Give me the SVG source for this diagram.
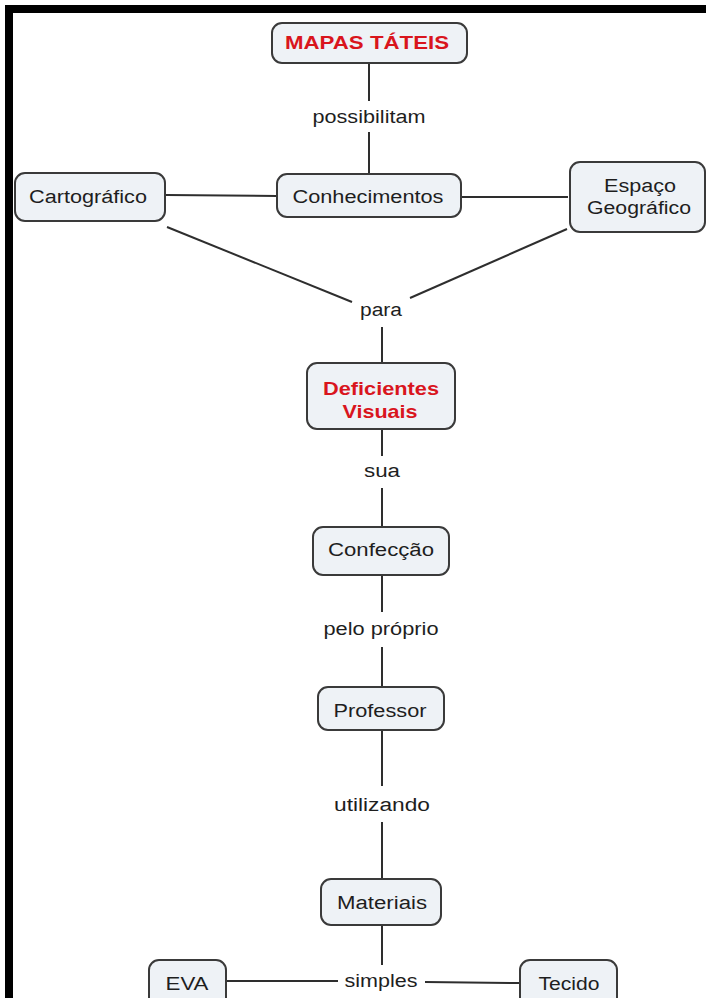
<svg xmlns="http://www.w3.org/2000/svg" width="706" height="998" viewBox="0 0 706 998">
<style>
.node rect{fill:#eef2f6;stroke:#3a3a3a;stroke-width:2}
text{font-family:"Liberation Sans",Arial,sans-serif;font-size:18px;fill:#1e1e1e;text-anchor:middle}
.red{fill:#d9151d;font-weight:bold;font-size:19px}
.lbl{fill:#1e1e1e}
#connectors line{stroke:#2e2e2e;stroke-width:2}
</style>
<rect x="0" y="0" width="706" height="998" fill="#ffffff"/>
<g id="frame">
<rect x="5" y="5" width="701" height="8" fill="#000"/>
<rect x="5" y="5" width="8" height="993" fill="#000"/>
</g>
<g id="connectors">
<line x1="369" y1="63" x2="369" y2="101"/>
<line x1="369" y1="132" x2="369" y2="174"/>
<line x1="166" y1="195" x2="277" y2="196"/>
<line x1="461" y1="197" x2="568" y2="197"/>
<line x1="167" y1="227" x2="352" y2="302"/>
<line x1="567" y1="229" x2="410" y2="298"/>
<line x1="382" y1="327" x2="382" y2="363"/>
<line x1="382" y1="429" x2="382" y2="456"/>
<line x1="382" y1="488" x2="382" y2="527"/>
<line x1="382" y1="575" x2="382" y2="612"/>
<line x1="382" y1="647" x2="382" y2="687"/>
<line x1="382" y1="730" x2="382" y2="786"/>
<line x1="382" y1="822" x2="382" y2="879"/>
<line x1="382" y1="925" x2="382" y2="965"/>
<line x1="226" y1="981" x2="338" y2="981"/>
<line x1="425" y1="982" x2="519" y2="983"/>
</g>
<g id="label-possibilitam"><text class="lbl" x="369" y="123" textLength="113" lengthAdjust="spacingAndGlyphs">possibilitam</text></g>
<g id="label-para"><text class="lbl" x="381" y="316" textLength="42" lengthAdjust="spacingAndGlyphs">para</text></g>
<g id="label-sua"><text class="lbl" x="382" y="477" textLength="36" lengthAdjust="spacingAndGlyphs">sua</text></g>
<g id="label-pelo"><text class="lbl" x="381" y="635" textLength="115" lengthAdjust="spacingAndGlyphs">pelo próprio</text></g>
<g id="label-utilizando"><text class="lbl" x="382" y="811" textLength="96" lengthAdjust="spacingAndGlyphs">utilizando</text></g>
<g id="label-simples"><text class="lbl" x="381" y="987" textLength="73" lengthAdjust="spacingAndGlyphs">simples</text></g>

<g id="mapas" class="node"><rect x="272" y="23" width="195" height="40" rx="10"/><text class="red" x="367" y="49" textLength="164" lengthAdjust="spacingAndGlyphs">MAPAS TÁTEIS</text></g>
<g id="conhecimentos" class="node"><rect x="277" y="174" width="184" height="43" rx="10"/><text x="368" y="203" textLength="151" lengthAdjust="spacingAndGlyphs">Conhecimentos</text></g>
<g id="cartografico" class="node"><rect x="15" y="173" width="150" height="48" rx="10"/><text x="88" y="203" textLength="118" lengthAdjust="spacingAndGlyphs">Cartográfico</text></g>
<g id="espaco" class="node"><rect x="570" y="162" width="135" height="70" rx="10"/><text x="640" y="192" textLength="72" lengthAdjust="spacingAndGlyphs">Espaço</text><text x="639" y="214" textLength="104" lengthAdjust="spacingAndGlyphs">Geográfico</text></g>
<g id="deficientes" class="node"><rect x="307" y="363" width="148" height="66" rx="10"/><text class="red" x="381" y="395" textLength="116" lengthAdjust="spacingAndGlyphs">Deficientes</text><text class="red" x="380" y="418" textLength="75" lengthAdjust="spacingAndGlyphs">Visuais</text></g>
<g id="confeccao" class="node"><rect x="313" y="527" width="136" height="48" rx="10"/><text x="381" y="556" textLength="106" lengthAdjust="spacingAndGlyphs">Confecção</text></g>
<g id="professor" class="node"><rect x="318" y="687" width="126" height="43" rx="10"/><text x="380" y="717" textLength="93" lengthAdjust="spacingAndGlyphs">Professor</text></g>
<g id="materiais" class="node"><rect x="321" y="879" width="120" height="46" rx="10"/><text x="382" y="909" textLength="90" lengthAdjust="spacingAndGlyphs">Materiais</text></g>
<g id="eva" class="node"><rect x="149" y="960" width="77" height="48" rx="10"/><text x="187" y="990" textLength="43" lengthAdjust="spacingAndGlyphs">EVA</text></g>
<g id="tecido" class="node"><rect x="520" y="960" width="97" height="48" rx="10"/><text x="569" y="990" textLength="61" lengthAdjust="spacingAndGlyphs">Tecido</text></g>
</svg>
